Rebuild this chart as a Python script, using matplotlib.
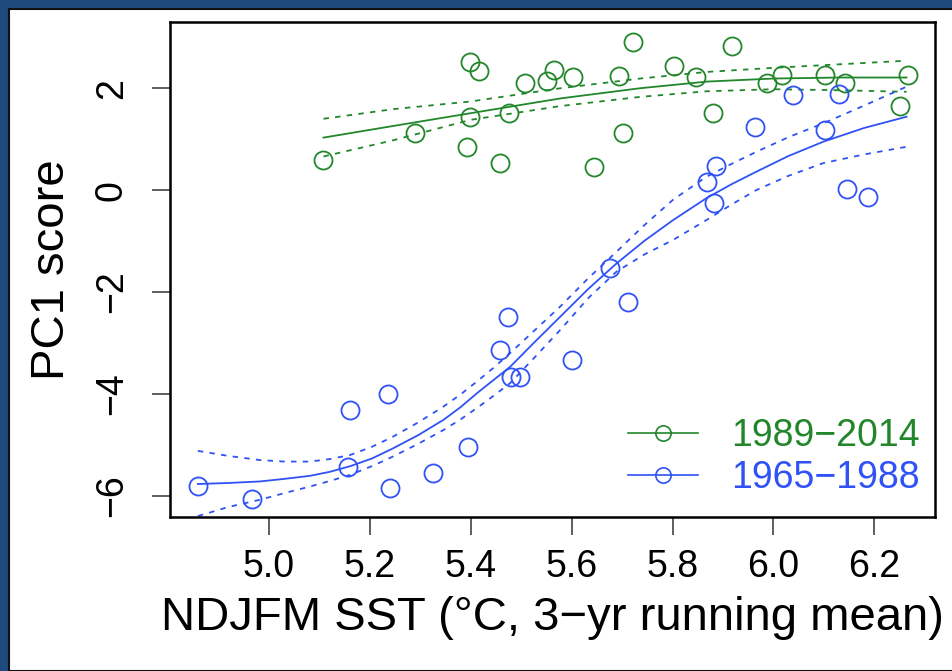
import matplotlib
matplotlib.use("Agg")
import matplotlib.pyplot as plt
from matplotlib.patches import Rectangle

plt.rcParams['font.family'] = ['Liberation Sans', 'DejaVu Sans']

GREEN = '#22862a'
BLUE = '#2f52f6'

# 1989-2014 (green)
sst_late = [5.107, 5.289, 5.398, 5.416, 5.508, 5.551, 5.565, 5.398, 5.476, 5.392,
            5.458, 5.603, 5.644, 5.694, 5.702, 5.722, 5.803, 5.847, 5.880, 5.917,
            5.987, 6.018, 6.102, 6.142, 6.267, 6.251]
pc1_late = [0.59, 1.12, 2.52, 2.34, 2.11, 2.14, 2.36, 1.44, 1.51, 0.85,
            0.53, 2.22, 0.46, 2.24, 1.12, 2.91, 2.44, 2.23, 1.52, 2.83,
            2.11, 2.26, 2.26, 2.10, 2.26, 1.65]

# 1965-1988 (blue)
sst_early = [4.859, 4.966, 5.161, 5.235, 5.157, 5.240, 5.325, 5.394, 5.474, 5.458,
             5.479, 5.498, 5.600, 5.676, 5.712, 5.886, 5.868, 5.882, 5.963, 6.039,
             6.102, 6.130, 6.145, 6.188]
pc1_early = [-5.80, -6.06, -4.32, -4.00, -5.43, -5.85, -5.55, -5.04, -2.49, -3.14,
             -3.66, -3.66, -3.34, -1.53, -2.19, 0.47, 0.16, -0.25, 1.24, 1.87,
             1.18, 1.89, 0.02, -0.13]

# fitted curves and confidence bands
fit_x_late = [5.108, 5.247, 5.400, 5.578, 5.736, 5.868, 6.000, 6.132, 6.264]
fit_late = [1.03, 1.26, 1.51, 1.80, 2.00, 2.13, 2.19, 2.21, 2.21]
upr_late = [1.40, 1.59, 1.74, 2.00, 2.19, 2.32, 2.40, 2.47, 2.54]
lwr_late = [0.66, 0.98, 1.38, 1.65, 1.83, 1.94, 1.98, 1.96, 1.93]

fit_x_early = [4.859, 4.920, 4.982, 5.030, 5.081, 5.121, 5.161, 5.204, 5.246, 5.296,
               5.346, 5.380, 5.412, 5.445, 5.478, 5.527, 5.577, 5.633, 5.689, 5.745,
               5.801, 5.867, 5.916, 5.966, 6.030, 6.099, 6.180, 6.264]
fit_early = [-5.77, -5.75, -5.72, -5.67, -5.61, -5.53, -5.42, -5.27, -5.07, -4.81,
             -4.51, -4.26, -3.99, -3.73, -3.47, -2.98, -2.49, -1.94, -1.44, -0.99,
             -0.59, -0.16, 0.11, 0.36, 0.67, 0.95, 1.22, 1.44]
upr_early = [-5.12, -5.22, -5.30, -5.33, -5.33, -5.28, -5.20, -5.04, -4.84, -4.56,
             -4.25, -4.01, -3.76, -3.49, -3.20, -2.75, -2.29, -1.73, -1.21, -0.68,
             -0.19, 0.26, 0.51, 0.75, 1.04, 1.31, 1.66, 2.03]
lwr_early = [-6.40, -6.22, -6.08, -5.95, -5.82, -5.71, -5.59, -5.42, -5.23, -4.98,
             -4.71, -4.50, -4.28, -4.04, -3.79, -3.28, -2.75, -2.12, -1.60, -1.26,
             -0.98, -0.59, -0.29, 0.00, 0.28, 0.53, 0.70, 0.85]

x_ticks = [5.0, 5.2, 5.4, 5.6, 5.8, 6.0, 6.2]
y_ticks = [2, 0, -2, -4, -6]

fig = plt.figure(figsize=(9.52, 6.71), dpi=100)
fig.patch.set_facecolor('#1f4a7e')
# white panel with the dark edge, blue frame shows only top and left
bg = Rectangle((9 / 952, 0), 1, 1 - 9 / 671, transform=fig.transFigure,
               facecolor='white', edgecolor='#111111', linewidth=1.5, zorder=-10)
fig.patches.append(bg)

ax = fig.add_axes([170 / 952, 1 - 517 / 671, 765 / 952, 495 / 671])
ax.set_zorder(1)

dash = (0, (3, 3.5))
ax.plot(fit_x_late, fit_late, color=GREEN, lw=1.3)
ax.plot(fit_x_late, upr_late, color=GREEN, lw=1.3, ls=dash)
ax.plot(fit_x_late, lwr_late, color=GREEN, lw=1.3, ls=dash)
ax.plot(fit_x_early, fit_early, color=BLUE, lw=1.3)
ax.plot(fit_x_early, upr_early, color=BLUE, lw=1.3, ls=dash)
ax.plot(fit_x_early, lwr_early, color=BLUE, lw=1.3, ls=dash)

ax.plot(sst_late, pc1_late, 'o', ms=13, mfc='none', mec=GREEN, mew=1.3)
ax.plot(sst_early, pc1_early, 'o', ms=13, mfc='none', mec=BLUE, mew=1.3)

# legend handles
h1, = ax.plot([], [], '-o', color=GREEN, ms=11, mfc='none', mew=1.2, lw=1.2)
h2, = ax.plot([], [], '-o', color=BLUE, ms=11, mfc='none', mew=1.2, lw=1.2)
leg = ax.legend([h1, h2], ['1989\u22122014', '1965\u22121988'], loc='lower right',
                bbox_to_anchor=(1.0, 0.012), frameon=False, fontsize=27,
                handlelength=1.85, handletextpad=0.9, labelspacing=0.15,
                borderaxespad=0.0)
for txt, c in zip(leg.get_texts(), [GREEN, BLUE]):
    txt.set_color(c)

ax.set_xlim(4.8037, 6.3204)
ax.set_ylim(-6.418, 3.30)
ax.set_xticks(x_ticks)
ax.set_xticklabels(['%.1f' % v for v in x_ticks])
ax.set_yticks(y_ticks)
ax.set_yticklabels([str(v).replace('-', '\u2212') for v in y_ticks], rotation=90, va='center')

for s in ax.spines.values():
    s.set_linewidth(1.8)
ax.tick_params(direction='out', length=13, width=1.1, labelsize=27, color='#333333')
ax.tick_params(axis='x', pad=10)
ax.tick_params(axis='y', pad=16)

ax.set_xlabel('NDJFM SST (\u00b0C, 3\u2212yr running mean)', fontsize=34, labelpad=8)
ax.set_ylabel('PC1 score', fontsize=34, labelpad=14)

fig.savefig('out.png', dpi=100, facecolor=fig.get_facecolor())
